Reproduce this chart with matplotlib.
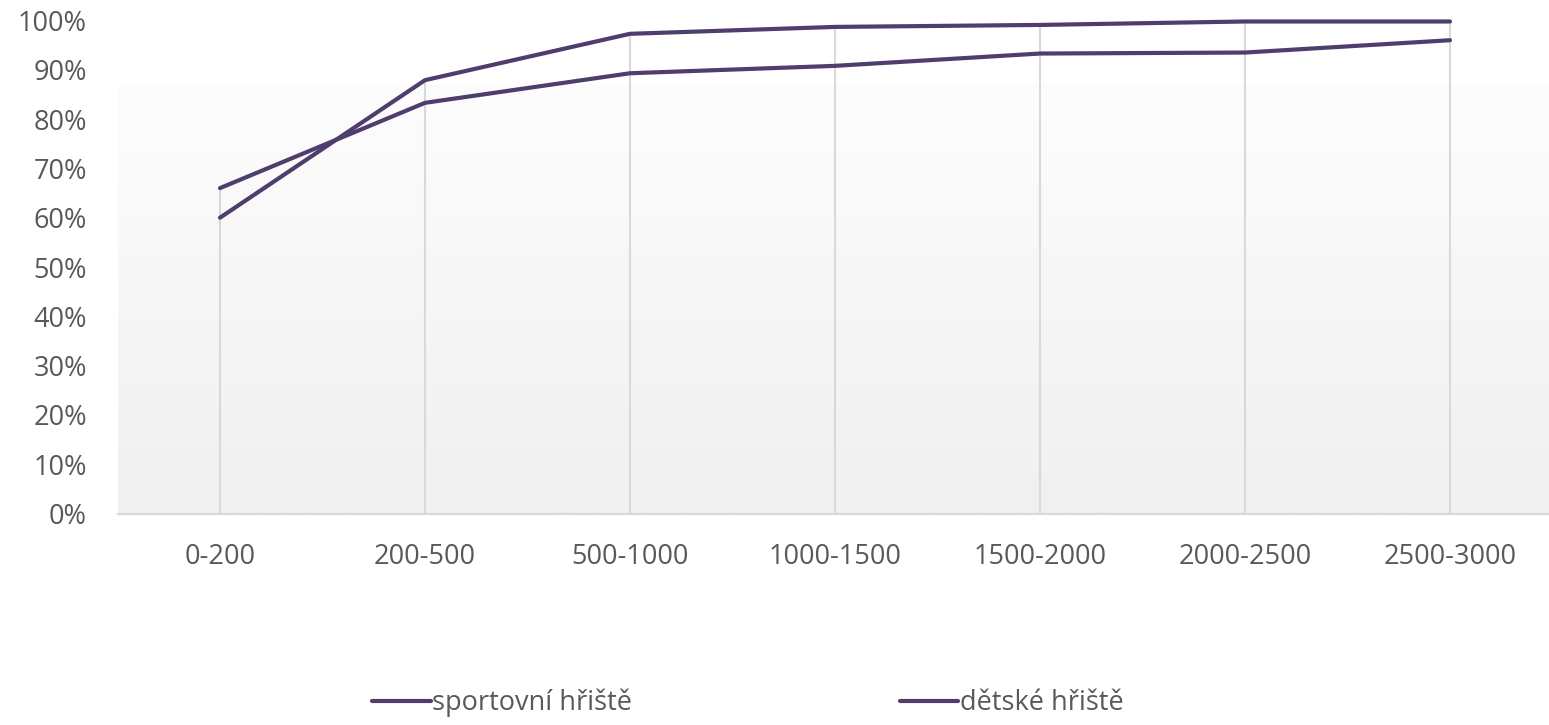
import numpy as np
import matplotlib
matplotlib.use("Agg")
import matplotlib.pyplot as plt
from matplotlib.colors import LinearSegmentedColormap

categories = ["0-200", "200-500", "500-1000", "1000-1500", "1500-2000", "2000-2500", "2500-3000"]
sportovni = [60.0, 87.9, 97.3, 98.7, 99.1, 99.8, 99.8]
detske = [66.0, 83.3, 89.3, 90.8, 93.3, 93.5, 96.0]
series_names = ["sportovní hřiště", "dětské hřiště"]
yticks = [0, 10, 20, 30, 40, 50, 60, 70, 80, 90, 100]

plt.rcParams['font.family'] = ['Open Sans', 'DejaVu Sans']
W, H = 1549, 725
fig = plt.figure(figsize=(W / 100, H / 100), dpi=100)
left = 117.5 / W
right = 1552.5 / W
bottom = (H - 513.5) / H
top = (H - 20.5) / H
ax = fig.add_axes([left, bottom, right - left, top - bottom])

line_color = '#4f3d6d'
grid_color = '#d9d9d9'
text_color = '#595959'

# gradient background (visible part of plot-area fill)
cmap = LinearSegmentedColormap.from_list('bg', ['#fdfdfd', '#f0f0f0'])
grad = np.linspace(0, 1, 256).reshape(-1, 1)
ax.imshow(grad, cmap=cmap, aspect='auto', extent=[-0.5, len(categories) - 0.5, 0, 87],
          origin='upper', zorder=0, interpolation='bilinear')

x = np.arange(len(categories))
# drop lines from the highest point to the axis
tops = np.maximum(sportovni, detske)
ax.vlines(x, 0, tops, color=grid_color, lw=1.5, zorder=1)

ax.plot(x, sportovni, color=line_color, lw=3.0, label=series_names[0], zorder=3,
        solid_capstyle='round', clip_on=False)
ax.plot(x, detske, color=line_color, lw=3.0, label=series_names[1], zorder=3,
        solid_capstyle='round', clip_on=False)

ax.set_xlim(-0.5, len(categories) - 0.5)
ax.set_ylim(0, 100)
ax.set_yticks(yticks)
ax.set_yticklabels([f"{v}%" for v in yticks])
ax.set_xticks(x)
ax.set_xticklabels(categories)
for s in ['top', 'right', 'left']:
    ax.spines[s].set_visible(False)
ax.spines['bottom'].set_color(grid_color)
ax.spines['bottom'].set_linewidth(1.5)
ax.spines['bottom'].set_zorder(2)
ax.tick_params(axis='both', length=0, labelsize=19.5, colors=text_color)
ax.tick_params(axis='y', pad=22)
ax.tick_params(axis='x', pad=21)

leg = fig.legend(loc='center', bbox_to_anchor=(748 / W, (H - 703) / H), ncol=2,
                 frameon=False, fontsize=19.5, handlelength=2.15, handletextpad=0.05,
                 columnspacing=9.9, labelcolor=text_color)

fig.savefig('out.png', dpi=100)
